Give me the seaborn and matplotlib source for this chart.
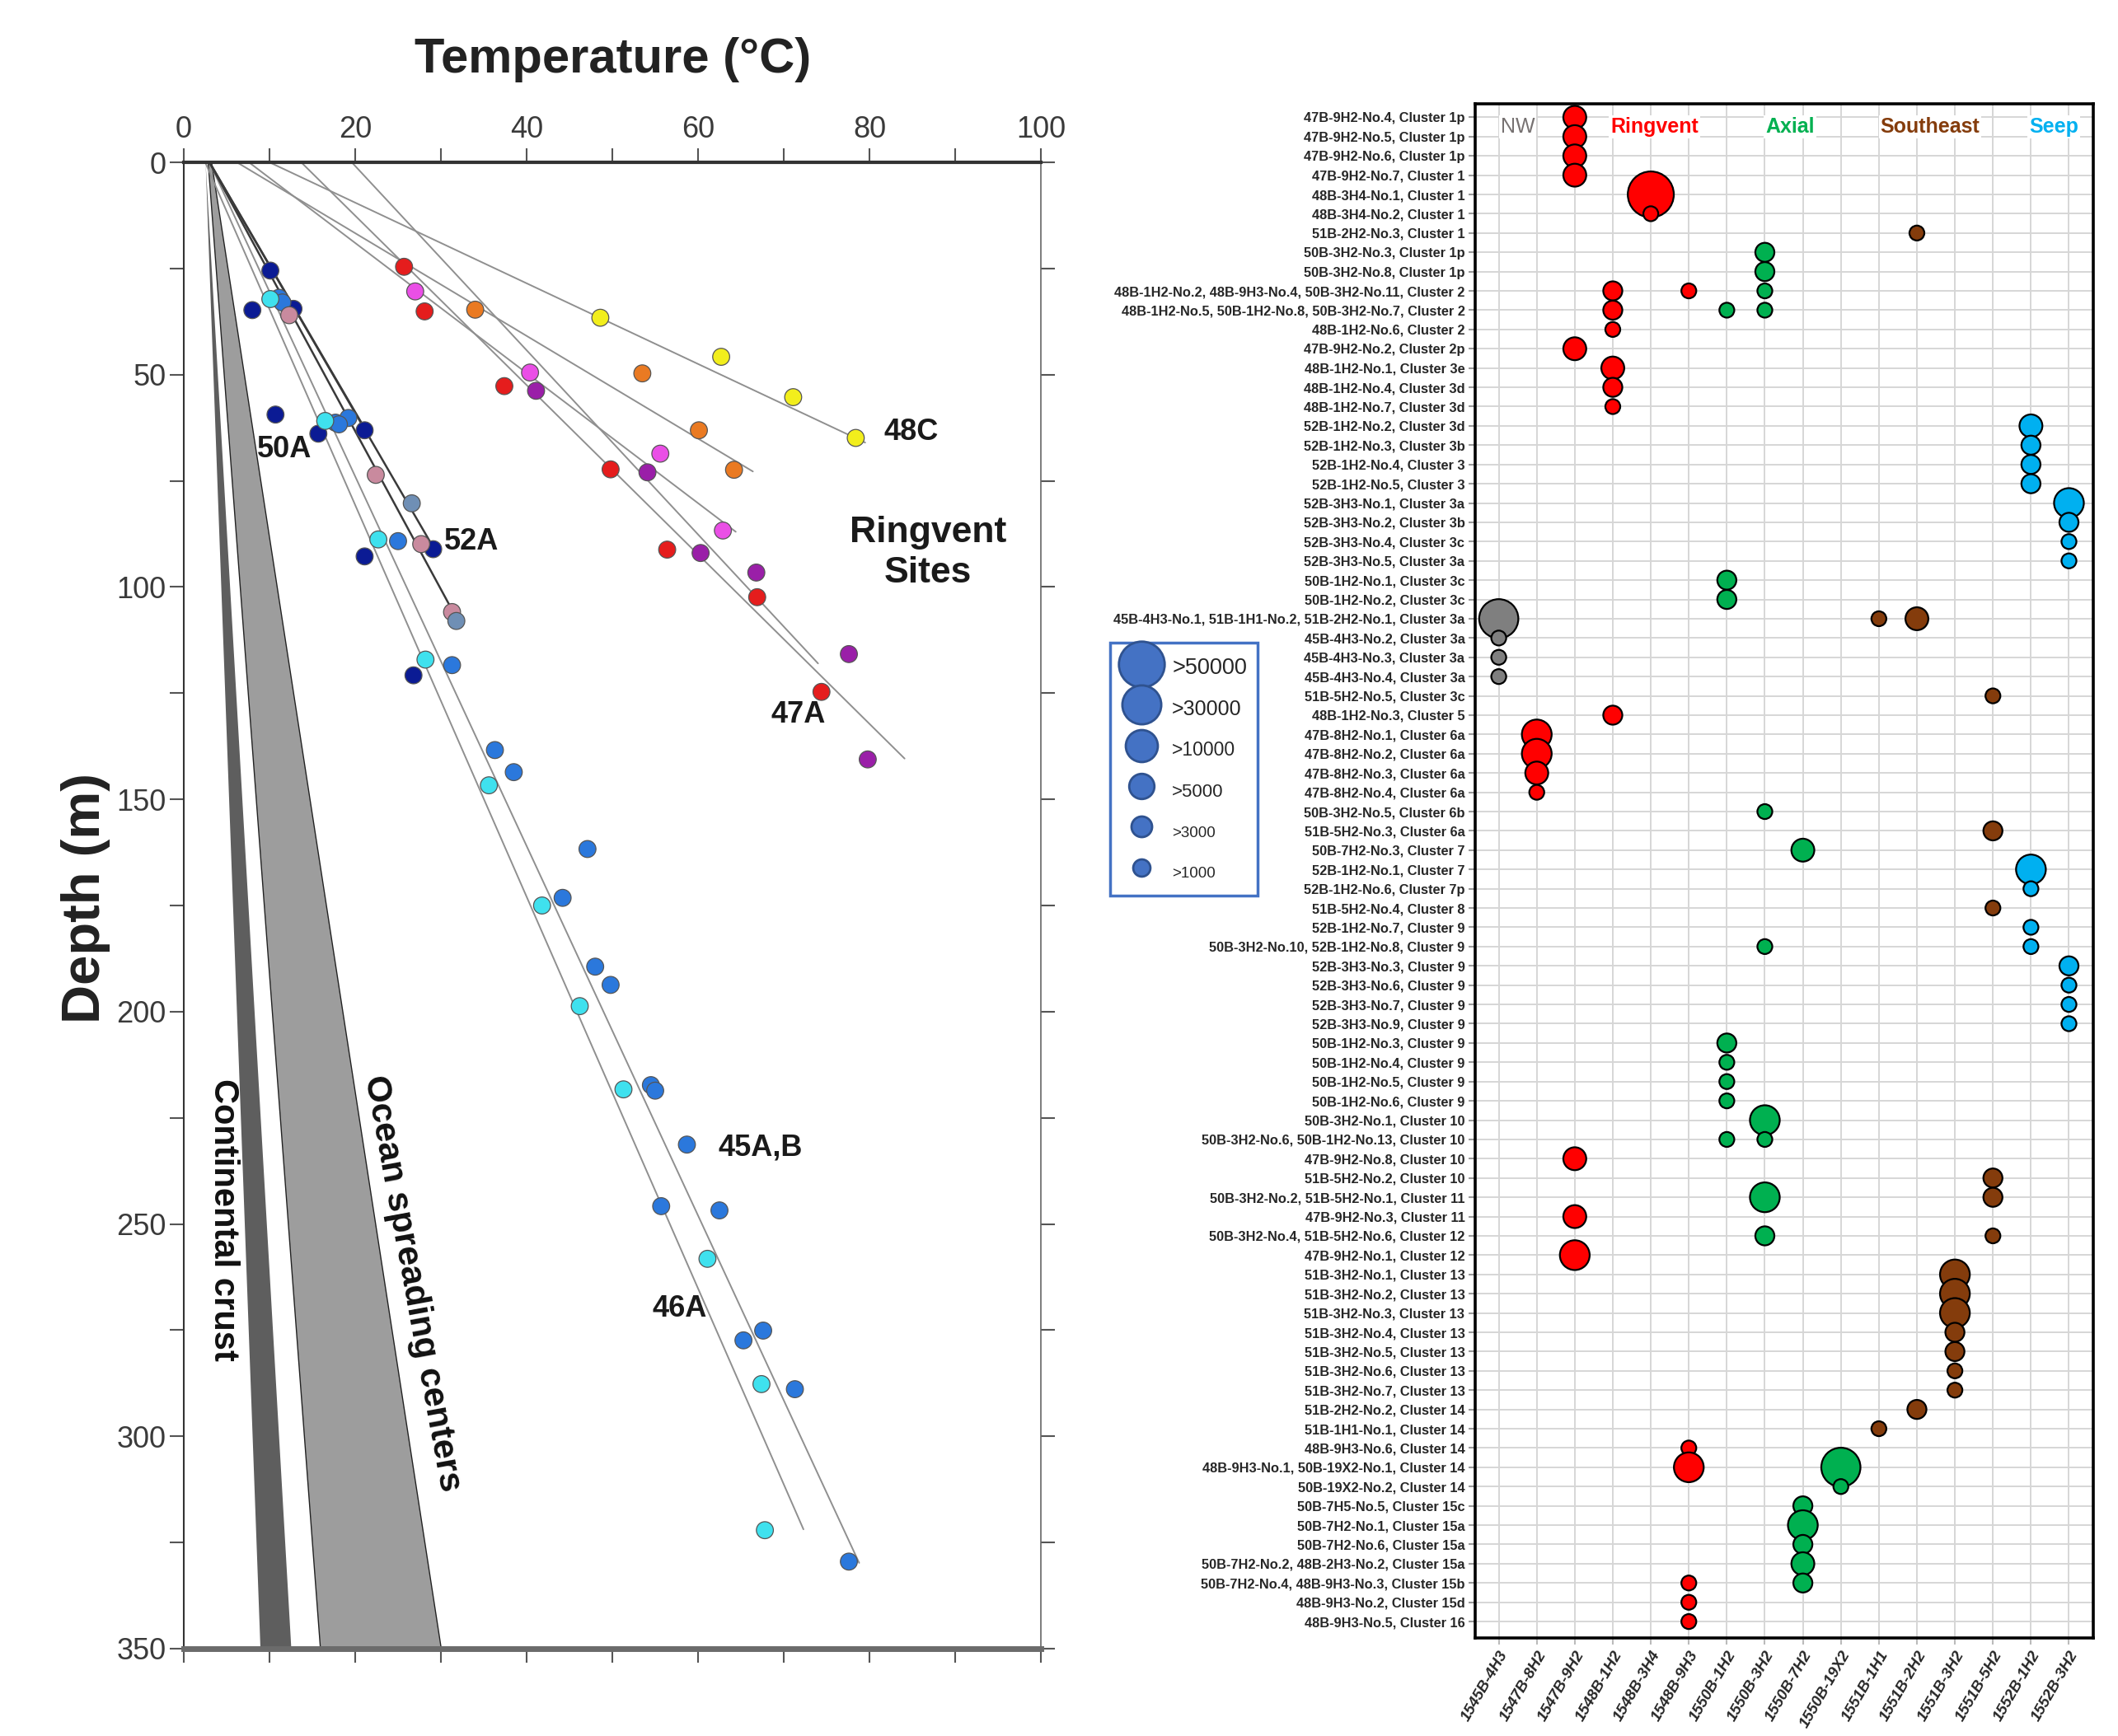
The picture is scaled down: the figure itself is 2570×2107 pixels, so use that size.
import matplotlib
matplotlib.use("Agg")
import matplotlib.pyplot as plt
from matplotlib.lines import Line2D
from matplotlib.ticker import MultipleLocator
import numpy as np
import pandas as pd
import seaborn as sns

sns.set_style("white")
plt.rcParams['font.family'] = ['Liberation Sans', 'DejaVu Sans']
NARROW = ['Liberation Sans Narrow', 'Liberation Sans', 'DejaVu Sans']

# ---------------- left panel: temperature (C) vs depth (m) ----------------
yellow_T = [48.6, 62.7, 71.1, 78.4]
yellow_D = [36.6, 45.8, 55.3, 64.9]
orange_T = [34.0, 53.5, 60.1, 64.2]
orange_D = [34.7, 49.7, 63.1, 72.4]
red_T = [25.7, 28.1, 37.4, 49.8, 56.4, 66.9, 74.4]
red_D = [24.6, 35.1, 52.7, 72.3, 91.2, 102.4, 124.7]
magenta_T = [27.0, 40.4, 55.6, 62.9]
magenta_D = [30.4, 49.5, 68.6, 86.7]
purple_T = [41.1, 54.1, 60.3, 66.8, 77.6, 79.8]
purple_D = [53.8, 73.0, 92.0, 96.6, 115.8, 140.6]
navy_T = [10.1, 8.0, 12.8, 10.7, 15.7, 21.1, 29.1, 21.1, 26.8]
navy_D = [25.5, 34.8, 34.5, 59.4, 63.9, 63.1, 91.1, 92.8, 120.8]
cyan_T = [10.1, 16.5, 22.7, 28.2, 35.6, 41.8, 46.2, 51.3, 61.1, 67.4, 67.8]
cyan_D = [32.2, 60.9, 88.8, 117.1, 146.7, 175.0, 198.7, 218.3, 258.2, 287.7, 322.1]
blue_T = [11.1, 11.5, 17.7, 19.2, 18.1, 25.0, 31.3, 36.3, 38.5, 47.1, 44.2,
          48.0, 49.8, 54.5, 55.0, 58.7, 55.7, 62.5, 67.6, 65.3, 71.3, 77.6]
blue_D = [31.9, 33.0, 61.3, 60.2, 61.7, 89.2, 118.4, 138.4, 143.6, 161.7, 173.2,
          189.4, 193.7, 217.3, 218.6, 231.3, 245.8, 246.8, 275.1, 277.4, 288.9, 329.5]
pinkgray_T = [12.3, 22.4, 27.7, 31.3]
pinkgray_D = [36.0, 73.6, 89.9, 105.9]
slate_T = [26.6, 31.8]
slate_D = [80.3, 108.0]

# thermal gradient lines: surface temperature -> (end temperature, end depth)
grad_T0 = [10.0, 6.2, 7.6, 19.6, 13.7, 3.0, 2.5, 3.0, 3.0, 3.0]
grad_T1 = [79.5, 66.4, 64.4, 74.0, 84.1, 78.8, 72.3, 32.0, 29.5, 21.5]
grad_D1 = [66.0, 72.8, 87.0, 118.0, 140.4, 329.8, 321.9, 108.0, 92.0, 64.0]

# reference wedges (temperature at 0 m and at 350 m)
crust_T_top = [2.5, 2.5]
crust_T_bot = [8.9, 12.5]
ocean_T_top = [2.8, 3.2]
ocean_T_bot = [15.9, 30.0]
wedge_D = [0, 350]

site_labels = ['48C', '50A', '52A', '47A', '45A,B', '46A']
site_label_T = [84.9, 11.7, 33.6, 71.7, 67.3, 57.9]
site_label_D = [63.6, 67.7, 89.3, 130.0, 232.0, 270.0]

# ---------------- right panel: bubble chart ----------------
sites = ['1545B-4H3', '1547B-8H2', '1547B-9H2', '1548B-1H2', '1548B-3H4', '1548B-9H3',
         '1550B-1H2', '1550B-3H2', '1550B-7H2', '1550B-19X2', '1551B-1H1', '1551B-2H2',
         '1551B-3H2', '1551B-5H2', '1552B-1H2', '1552B-3H2']
site_region = ['NW', 'Ringvent', 'Ringvent', 'Ringvent', 'Ringvent', 'Ringvent',
               'Axial', 'Axial', 'Axial', 'Axial', 'Southeast', 'Southeast',
               'Southeast', 'Southeast', 'Seep', 'Seep']
regions = ['NW', 'Ringvent', 'Axial', 'Southeast', 'Seep']
region_colors = ['#7f7f7f', '#ff0000', '#00b050', '#843c0c', '#00b0f0']
header_colors = ['#767171', '#ff0000', '#00b050', '#843c0c', '#00b0f0']
header_x = [0.5, 4.1, 7.66, 11.35, 14.6]

row_labels = [
    '47B-9H2-No.4, Cluster 1p', '47B-9H2-No.5, Cluster 1p', '47B-9H2-No.6, Cluster 1p',
    '47B-9H2-No.7, Cluster 1', '48B-3H4-No.1, Cluster 1', '48B-3H4-No.2, Cluster 1',
    '51B-2H2-No.3, Cluster 1', '50B-3H2-No.3, Cluster 1p', '50B-3H2-No.8, Cluster 1p',
    '48B-1H2-No.2, 48B-9H3-No.4, 50B-3H2-No.11, Cluster 2',
    '48B-1H2-No.5, 50B-1H2-No.8, 50B-3H2-No.7, Cluster 2',
    '48B-1H2-No.6, Cluster 2', '47B-9H2-No.2, Cluster 2p', '48B-1H2-No.1, Cluster 3e',
    '48B-1H2-No.4, Cluster 3d', '48B-1H2-No.7, Cluster 3d', '52B-1H2-No.2, Cluster 3d',
    '52B-1H2-No.3, Cluster 3b', '52B-1H2-No.4, Cluster 3', '52B-1H2-No.5, Cluster 3',
    '52B-3H3-No.1, Cluster 3a', '52B-3H3-No.2, Cluster 3b', '52B-3H3-No.4, Cluster 3c',
    '52B-3H3-No.5, Cluster 3a', '50B-1H2-No.1, Cluster 3c', '50B-1H2-No.2, Cluster 3c',
    '45B-4H3-No.1, 51B-1H1-No.2, 51B-2H2-No.1, Cluster 3a',
    '45B-4H3-No.2, Cluster 3a', '45B-4H3-No.3, Cluster 3a', '45B-4H3-No.4, Cluster 3a',
    '51B-5H2-No.5, Cluster 3c', '48B-1H2-No.3, Cluster 5', '47B-8H2-No.1, Cluster 6a',
    '47B-8H2-No.2, Cluster 6a', '47B-8H2-No.3, Cluster 6a', '47B-8H2-No.4, Cluster 6a',
    '50B-3H2-No.5, Cluster 6b', '51B-5H2-No.3, Cluster 6a', '50B-7H2-No.3, Cluster 7',
    '52B-1H2-No.1, Cluster 7', '52B-1H2-No.6, Cluster 7p', '51B-5H2-No.4, Cluster 8',
    '52B-1H2-No.7, Cluster 9', '50B-3H2-No.10, 52B-1H2-No.8, Cluster 9',
    '52B-3H3-No.3, Cluster 9', '52B-3H3-No.6, Cluster 9', '52B-3H3-No.7, Cluster 9',
    '52B-3H3-No.9, Cluster 9', '50B-1H2-No.3, Cluster 9', '50B-1H2-No.4, Cluster 9',
    '50B-1H2-No.5, Cluster 9', '50B-1H2-No.6, Cluster 9', '50B-3H2-No.1, Cluster 10',
    '50B-3H2-No.6, 50B-1H2-No.13, Cluster 10', '47B-9H2-No.8, Cluster 10',
    '51B-5H2-No.2, Cluster 10', '50B-3H2-No.2, 51B-5H2-No.1, Cluster 11',
    '47B-9H2-No.3, Cluster 11', '50B-3H2-No.4, 51B-5H2-No.6, Cluster 12',
    '47B-9H2-No.1, Cluster 12', '51B-3H2-No.1, Cluster 13', '51B-3H2-No.2, Cluster 13',
    '51B-3H2-No.3, Cluster 13', '51B-3H2-No.4, Cluster 13', '51B-3H2-No.5, Cluster 13',
    '51B-3H2-No.6, Cluster 13', '51B-3H2-No.7, Cluster 13', '51B-2H2-No.2, Cluster 14',
    '51B-1H1-No.1, Cluster 14', '48B-9H3-No.6, Cluster 14',
    '48B-9H3-No.1, 50B-19X2-No.1, Cluster 14', '50B-19X2-No.2, Cluster 14',
    '50B-7H5-No.5, Cluster 15c', '50B-7H2-No.1, Cluster 15a', '50B-7H2-No.6, Cluster 15a',
    '50B-7H2-No.2, 48B-2H3-No.2, Cluster 15a', '50B-7H2-No.4, 48B-9H3-No.3, Cluster 15b',
    '48B-9H3-No.2, Cluster 15d', '48B-9H3-No.5, Cluster 16']

# one entry per bubble: row number (1-based), site column, abundance class (1: >1000 ... 6: >50000)
bub_row = [1, 2, 3, 4, 5, 6, 7, 8, 9, 10, 10, 10, 11, 11, 11, 12, 13, 14, 15, 16,
           17, 18, 19, 20, 21, 22, 23, 24, 25, 26, 27, 27, 27, 28, 29, 30, 31, 32,
           33, 34, 35, 36, 37, 38, 39, 40, 41, 42, 43, 44, 44, 45, 46, 47, 48, 49,
           50, 51, 52, 53, 54, 54, 55, 56, 57, 57, 58, 59, 59, 60, 61, 62, 63, 64,
           65, 66, 67, 68, 69, 70, 71, 71, 72, 73, 74, 75, 76, 77, 77, 78, 79]
bub_col = [2, 2, 2, 2, 4, 4, 11, 7, 7, 3, 5, 7, 3, 6, 7, 3, 2, 3, 3, 3,
           14, 14, 14, 14, 15, 15, 15, 15, 6, 6, 0, 10, 11, 0, 0, 0, 13, 3,
           1, 1, 1, 1, 7, 13, 8, 14, 14, 13, 14, 7, 14, 15, 15, 15, 15, 6,
           6, 6, 6, 7, 6, 7, 2, 13, 7, 13, 2, 7, 13, 2, 12, 12, 12, 12,
           12, 12, 12, 11, 10, 5, 5, 9, 9, 8, 8, 8, 8, 8, 5, 5, 5]
bub_cls = [3, 3, 3, 3, 6, 1, 1, 2, 2, 2, 1, 1, 2, 1, 1, 1, 3, 3, 2, 1,
           3, 2, 2, 2, 4, 2, 1, 1, 2, 2, 5, 1, 3, 1, 1, 1, 1, 2,
           4, 4, 3, 1, 1, 2, 3, 4, 1, 1, 1, 1, 1, 2, 1, 1, 1, 2,
           1, 1, 1, 4, 1, 1, 3, 2, 4, 2, 3, 2, 1, 4, 4, 4, 4, 2,
           2, 1, 1, 2, 1, 1, 4, 5, 1, 2, 4, 2, 3, 2, 1, 1, 1]

legend_labels = ['>50000', '>30000', '>10000', '>5000', '>3000', '>1000']

# ---------------- build tables ----------------
groups = {
    'yellow': (yellow_T, yellow_D), 'orange': (orange_T, orange_D), 'red': (red_T, red_D),
    'magenta': (magenta_T, magenta_D), 'purple': (purple_T, purple_D),
    'navy': (navy_T, navy_D), 'blue': (blue_T, blue_D), 'cyan': (cyan_T, cyan_D),
    'pinkgray': (pinkgray_T, pinkgray_D), 'slate': (slate_T, slate_D),
}
pts = pd.concat([pd.DataFrame({'T': t, 'D': d, 'grp': g}) for g, (t, d) in groups.items()],
                ignore_index=True)
pt_colors = {'yellow': '#f2ee1c', 'orange': '#ea7a22', 'red': '#e51d1d', 'magenta': '#ea4fe6',
             'purple': '#9a1fa8', 'navy': '#0b1b94', 'blue': '#2b78dc', 'cyan': '#3fe1ee',
             'pinkgray': '#c98a9e', 'slate': '#6f8fb5'}

lines = pd.DataFrame({
    'line': np.repeat(np.arange(len(grad_T0)), 2),
    'T': np.ravel(np.column_stack([grad_T0, grad_T1])),
    'D': np.ravel(np.column_stack([np.zeros(len(grad_T0)), grad_D1])),
})

bub = pd.DataFrame({'row': np.array(bub_row) - 1, 'col': bub_col, 'cls': bub_cls})
bub['region'] = [site_region[c] for c in bub['col']]

# ---------------- figure ----------------
fig = plt.figure(figsize=(25.7, 21.07), dpi=100)
W, H = 2570, 2107
ax1 = fig.add_axes([223 / W, 1 - 2001 / H, (1263 - 223) / W, (2001 - 197) / H])
ax2 = fig.add_axes([1790 / W, 1 - 1988 / H, (2540 - 1790) / W, (1988 - 126) / H])

# left panel
ax1.fill_betweenx(wedge_D, [crust_T_top[0], crust_T_bot[0]], [crust_T_top[1], crust_T_bot[1]],
                  color='#5e5e5e', lw=0, zorder=1)
ax1.fill_betweenx(wedge_D, [ocean_T_top[0], ocean_T_bot[0]], [ocean_T_top[1], ocean_T_bot[1]],
                  facecolor='#9d9d9d', edgecolor='#222222', lw=1, zorder=1)
sns.lineplot(data=lines[lines['line'] < 7], x='T', y='D', units='line', estimator=None,
             sort=False, color='#8f8f8f', lw=1.4, ax=ax1, zorder=2)
sns.lineplot(data=lines[lines['line'] >= 7], x='T', y='D', units='line', estimator=None,
             sort=False, color='#3a3a3a', lw=1.8, ax=ax1, zorder=2)
sns.scatterplot(data=pts, x='T', y='D', hue='grp', palette=pt_colors, s=220,
                edgecolor='#555555', linewidth=0.9, legend=False, ax=ax1, zorder=3)

ax1.set_xlim(0, 100)
ax1.set_ylim(350, 0)
ax1.set_xlabel('')
ax1.set_ylabel('')
ax1.xaxis.set_major_locator(MultipleLocator(20))
ax1.xaxis.set_minor_locator(MultipleLocator(10))
ax1.yaxis.set_major_locator(MultipleLocator(50))
ax1.yaxis.set_minor_locator(MultipleLocator(25))
ax1.tick_params(axis='x', which='both', top=True, bottom=True, labeltop=True,
                labelbottom=False, direction='out', length=12, width=1.5, color='#555555')
ax1.tick_params(axis='y', which='both', left=True, right=True, direction='out',
                length=12, width=1.5, color='#555555')
for lab in ax1.get_xticklabels() + ax1.get_yticklabels():
    lab.set_family(NARROW)
    lab.set_fontsize(26)
    lab.set_color('#3a3a3a')
ax1.spines['top'].set_linewidth(3)
ax1.spines['top'].set_color('#333333')
ax1.spines['bottom'].set_linewidth(5)
ax1.spines['bottom'].set_color('#6b6b6b')
ax1.spines['left'].set_linewidth(1.5)
ax1.spines['left'].set_color('#333333')
ax1.spines['right'].set_linewidth(1.2)
ax1.spines['right'].set_color('#666666')

for lab, t, d in zip(site_labels, site_label_T, site_label_D):
    ax1.text(t, d, lab, ha='center', va='center', fontsize=26, fontweight='bold',
             family=NARROW, color='#1a1a1a')
ax1.text(86.8, 92, 'Ringvent\nSites', ha='center', va='center', fontsize=32,
         fontweight='bold', family=NARROW, color='#1a1a1a', linespacing=1.25)
ax1.text(4.6, 249, 'Continental crust', rotation=-90, ha='center', va='center',
         fontsize=30, fontweight='bold', color='#111111')
ax1.text(26.6, 264, 'Ocean spreading centers', rotation=-79.6, ha='center', va='center',
         fontsize=31, fontweight='bold', color='#111111', rotation_mode='anchor')

fig.text(744 / W, 1 - 72 / H, 'Temperature (°C)', ha='center', va='center', fontsize=43,
         fontweight='bold', family=NARROW, color='#222222')
fig.text(104 / W, 1 - 1090 / H, 'Depth (m)', rotation=90, ha='center', va='center',
         fontsize=47, fontweight='bold', family=NARROW, color='#222222')

# right panel
sizes = {1: 169, 2: 276, 3: 400, 4: 676, 5: 1170, 6: 1616}
sns.scatterplot(data=bub, x='col', y='row', hue='region', hue_order=regions,
                palette=dict(zip(regions, region_colors)), size='cls', sizes=sizes,
                edgecolor='black', linewidth=1.6, legend=False, ax=ax2, zorder=3,
                clip_on=False)
ax2.set_xlim(-0.62, 15.64)
ax2.set_ylim(78.85, -0.7)
ax2.set_xlabel('')
ax2.set_ylabel('')
ax2.set_xticks(range(len(sites)))
ax2.set_xticklabels(sites, rotation=60, ha='right', rotation_mode='anchor', fontsize=13.5,
                    fontweight='bold', fontstyle='italic')
ax2.set_yticks(range(len(row_labels)))
ax2.set_yticklabels(row_labels, fontsize=11.8, fontweight='bold', family=NARROW)
ax2.tick_params(axis='y', left=True, length=6, width=1.5, color='#9a9a9a', pad=3)
ax2.tick_params(axis='x', bottom=True, length=6, width=1.5, color='#bbbbbb', pad=3)
ax2.grid(True, color='#d6d6d6', lw=1.4)
ax2.set_axisbelow(True)
for sp in ax2.spines.values():
    sp.set_linewidth(2.6)
    sp.set_color('black')

for name, col, x in zip(regions, header_colors, header_x):
    ax2.text(x, 0.5, name, ha='center', va='center', fontsize=18, color=col,
             fontweight='normal' if name == 'NW' else 'bold', family=NARROW,
             bbox=dict(facecolor='white', edgecolor='none', pad=1.5), zorder=4)

handles = [Line2D([], [], marker='o', ls='', markersize=ms, markerfacecolor='#4472c4',
                  markeredgecolor='#2f528f', markeredgewidth=2)
           for ms in [40, 34, 28, 22, 18, 15]]
leg = ax2.legend(handles, legend_labels, loc='upper left',
                 bbox_to_anchor=(1347 / W, 1 - 780 / H), bbox_transform=fig.transFigure,
                 fontsize=19, frameon=True, fancybox=False, framealpha=1,
                 handlelength=1.9, handleheight=1.55, labelspacing=0.62,
                 handletextpad=0.45, borderpad=0.5, borderaxespad=0)
leg.get_frame().set_edgecolor('#4472c4')
leg.get_frame().set_linewidth(2.5)
for txt, fs in zip(leg.get_texts(), [19.5, 18, 16.5, 16, 13.5, 13.5]):
    txt.set_fontsize(fs)

fig.savefig('out.png', dpi=100)
